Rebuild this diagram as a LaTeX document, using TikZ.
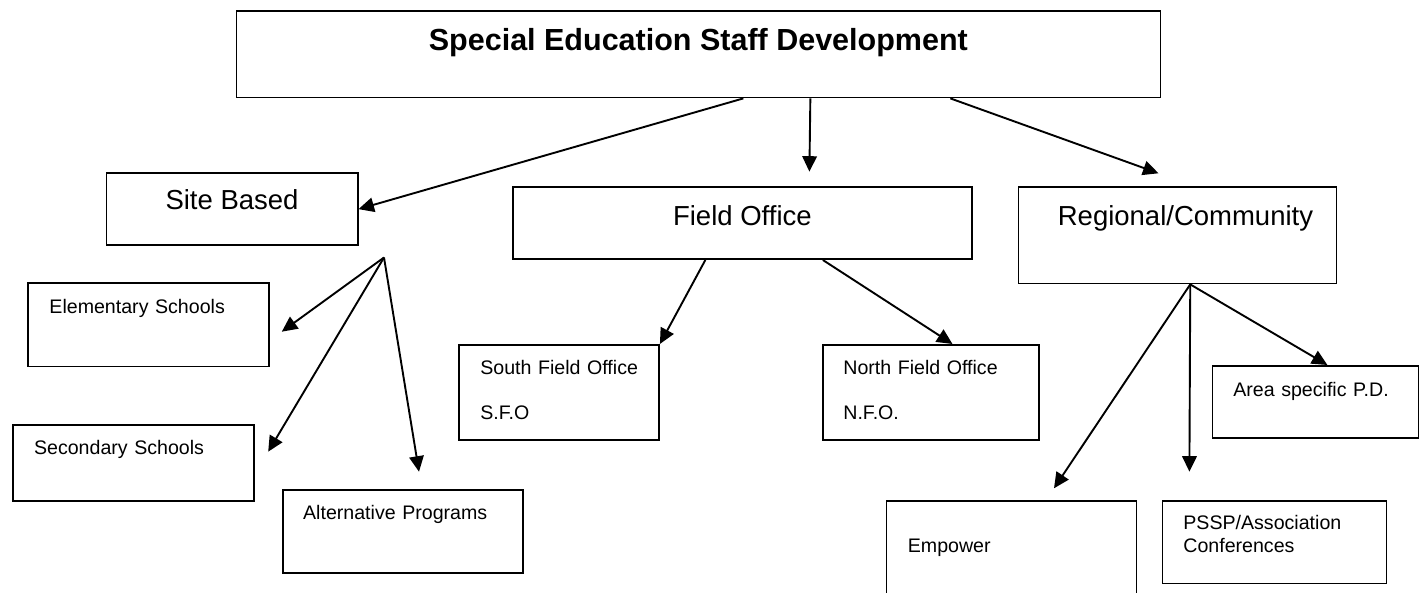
\documentclass[tikz,border=0pt]{standalone}
\usepackage{fontspec}
\setmainfont{Liberation Sans}
\usetikzlibrary{arrows.meta}
\usetikzlibrary{calc}

\begin{document}
\begin{tikzpicture}[x=1pt, y=-1pt,
    box/.style={draw, line width=1.7pt, anchor=north west, inner ysep=0pt, align=left, font=\fontsize{19.6}{23.4}\selectfont},
    arrow/.style={-{Triangle[length=15.5pt, width=14.5pt]}, line width=1.9pt}]

    \useasboundingbox (0,0) rectangle (1426,593);

    % Draw top box
    \node [box, align=center, minimum width=924pt, text height=40pt, text depth=46.7pt, font=\fontsize{30.5}{36}\selectfont\bfseries] (top) at (235.5,10) {Special Education Staff Development};

    % Draw second row
    \node [box, minimum width=251.3pt, text height=36pt, text depth=36pt, font=\fontsize{27.5}{33}\selectfont] (site) at (105.5,172.3) {Site Based};
    \node [box, minimum width=459.4pt, text height=39pt, text depth=33.3pt, font=\fontsize{27.5}{33}\selectfont] (field) at (511.8,186) {Field Office};
    \node [box, inner xsep=20.7pt, text width=276.8pt, text height=39pt, text depth=57.7pt, font=\fontsize{27.5}{33}\selectfont] (reg) at (1017.5,186) {\hspace*{18.8pt}Regional/Community};

    % Draw site based boxes
    \node [box, inner xsep=21.3pt, text width=198.3pt, text height=30pt, text depth=53.4pt] (elem) at (27.3,282.3) {Elementary Schools};
    \node [box, inner xsep=20.9pt, text width=199.1pt, text height=30pt, text depth=46pt] (sec) at (12.3,424) {Secondary Schools};
    \node [box, inner xsep=20.5pt, text width=199pt, text height=30pt, text depth=53.3pt] (alt) at (281.8,489) {Alternative Programs};

    % Draw field office boxes
    \node [box, inner xsep=21.3pt, text width=157.4pt, text height=29.3pt, text depth=65.7pt] (south) at (458.2,344) {\mbox{South Field Office}\\[22.3pt]S.F.O};
    \node [box, inner xsep=20.5pt, text width=175pt, text height=29.3pt, text depth=65.7pt] (north) at (822,344) {\mbox{North Field Office}\\[22.3pt]N.F.O.};

    % Draw regional boxes
    \node [box, inner xsep=20.9pt, text width=164.1pt, text height=30.7pt, text depth=41.6pt] (area) at (1211.6,365) {Area specific P.D.};
    \node [box, inner xsep=21.3pt, text width=207.4pt, text height=51.7pt, text depth=80pt] (emp) at (885.7,500) {Empower};
    \node [box, inner xsep=20.9pt, text width=182.3pt, text height=28.3pt, text depth=54.4pt] (pssp) at (1161.6,500) {PSSP/Association\\Conferences};

    % Draw points
    \coordinate (fieldin) at (809.4,171.7);
    \coordinate (regin) at (1158.5,173.3);
    \coordinate (sitefork) at (384,257.5);
    \coordinate (elemin) at (281.8,331.7);
    \coordinate (secin) at (268.2,451.7);
    \coordinate (altin) at (419,471.7);
    \coordinate (regfork) at ([xshift=12.8pt]reg.south);
    \coordinate (psspin) at (1189.4,471.7);
    \coordinate (empin) at (1054,488.3);

    % Draw arrows
    \draw [arrow] ([xshift=45pt]top.south) -- (site.east);
    \draw [arrow] ([xshift=112pt]top.south) -- (fieldin);
    \draw [arrow] ([xshift=252pt]top.south) -- (regin);

    \draw [arrow] (sitefork) -- (elemin);
    \draw [arrow] (sitefork) -- (secin);
    \draw [arrow] (sitefork) -- (altin);

    \draw [arrow] ([xshift=-37pt]field.south) -- (south.north east);
    \draw [arrow] ([xshift=80.5pt]field.south) -- ([xshift=21.6pt]north.north);

    \draw [arrow] (regfork) -- ([xshift=12pt]area.north);
    \draw [arrow] (regfork) -- (psspin);
    \draw [arrow] (regfork) -- (empin);

\end{tikzpicture}
\end{document}
